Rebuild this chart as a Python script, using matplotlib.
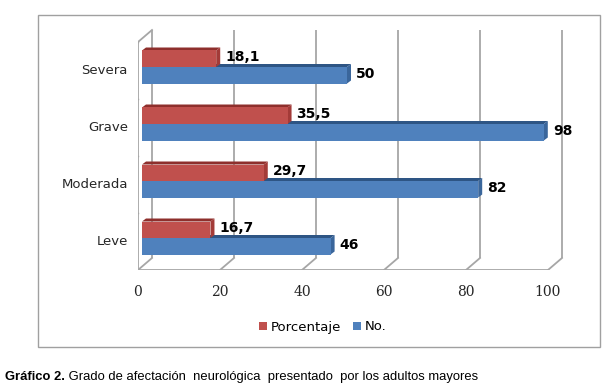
import matplotlib
matplotlib.use("Agg")
import matplotlib.pyplot as plt
from matplotlib.patches import Polygon, Rectangle, Patch

categories = ['Leve', 'Moderada', 'Grave', 'Severa']
porcentaje = [16.7, 29.7, 35.5, 18.1]
numero = [46, 82, 98, 50]
xticks = [0, 20, 40, 60, 80, 100]
series_names = ['Porcentaje', 'No.']
caption_bold = 'Gráfico 2.'
caption_rest = ' Grado de afectación  neurológica  presentado  por los adultos mayores'

W, H = 603, 387
fig = plt.figure(figsize=(W / 100, H / 100), dpi=100)
fig.patch.set_facecolor('white')

# axes geometry (pixels)
x0px, x100px = 138, 548
ppu_x = (x100px - x0px) / 100.0          # px per data unit (x)
floor_px, top_px = 270, 42               # front floor/top in px from top
ppu_y = (floor_px - top_px) / len(categories)
ax_right_px, ax_top_px = 590, 20
ax = fig.add_axes([x0px / W, (H - floor_px) / H, (ax_right_px - x0px) / W, (floor_px - ax_top_px) / H])
ax.set_xlim(0, (ax_right_px - x0px) / ppu_x)
ax.set_ylim(-0.5, -0.5 + (floor_px - ax_top_px) / ppu_y)
ax.axis('off')

PX = 1.0 / ppu_x
PY = 1.0 / ppu_y
DX, DY = 14 * PX, 12 * PY          # wall depth
grid_c = '#A6A6A6'
ybot, ytop = -0.5, len(categories) - 0.5

# back wall gridlines + floor diagonals
for t in xticks:
    ax.plot([t + DX, t + DX], [ybot + DY, ytop + DY], color=grid_c, lw=1.3, zorder=1, solid_capstyle='butt')
    ax.plot([t, t + DX], [ybot, ybot + DY], color=grid_c, lw=1.3, zorder=1)
    ax.plot([t, t], [ybot, ybot - 4 * PY], color=grid_c, lw=1.0, zorder=1)
    ax.text(t, ybot - 22 * PY, str(t), ha='center', va='center',
            fontsize=10, family='DejaVu Serif', color='#262626')
# front floor + left wall
ax.plot([0, xticks[-1]], [ybot, ybot], color=grid_c, lw=1.3, zorder=1)
ax.plot([0, 0], [ybot, ytop], color=grid_c, lw=1.3, zorder=1)
ax.plot([0, DX], [ytop, ytop + DY], color=grid_c, lw=1.3, zorder=1)
for k in range(len(categories) + 1):
    yy = ybot + k
    ax.plot([0, -4 * PX], [yy, yy], color=grid_c, lw=1.0, zorder=1)

# bars
bx0 = 4 * PX
boff = 3.5 * PY
bh = 16.5 * PY
bdx, bdy = 4 * PX, 3 * PY
colors = [('#C0504D', '#8E2F2C', '#A33B38'), ('#4F81BD', '#2E5584', '#3A669B')]


def bar3d(yb, val, cols, z):
    face, top, side = cols
    xe = bx0 + val
    yt = yb + bh
    ax.add_patch(Polygon([(bx0, yt), (bx0 + bdx, yt + bdy), (xe + bdx, yt + bdy), (xe, yt)],
                         closed=True, facecolor=top, edgecolor='none', zorder=z))
    ax.add_patch(Polygon([(xe, yb), (xe, yt), (xe + bdx, yt + bdy), (xe + bdx, yb + bdy)],
                         closed=True, facecolor=side, edgecolor='none', zorder=z))
    ax.add_patch(Rectangle((bx0, yb), val, bh, facecolor=face, edgecolor='none', zorder=z + 0.1))


def fmt(v):
    s = ('%g' % v).replace('.', ',')
    return s


for i, cat in enumerate(categories):
    c = i + boff
    # blue (No.) lower, red (Porcentaje) upper
    bar3d(c - bh, numero[i], colors[1], 3)
    bar3d(c, porcentaje[i], colors[0], 4)
    ax.text(bx0 + numero[i] + bdx + 5 * PX, c - bh / 2 + bdy / 2, fmt(numero[i]), ha='left', va='center',
            fontsize=10, fontweight='bold', color='black', zorder=6)
    ax.text(bx0 + porcentaje[i] + bdx + 5 * PX, c + bh / 2 + bdy / 2, fmt(porcentaje[i]), ha='left', va='center',
            fontsize=10, fontweight='bold', color='black', zorder=6)
    ax.text(-10 * PX, i, cat, ha='right', va='center', fontsize=9.5, color='#262626')

# legend
handles = [Patch(facecolor=colors[0][0], edgecolor='none'), Patch(facecolor=colors[1][0], edgecolor='none')]
fig.legend(handles, series_names, loc='center', bbox_to_anchor=(323 / W, (H - 327) / H), ncol=2,
           frameon=False, handlelength=0.6, handleheight=0.6, handletextpad=0.3, columnspacing=0.9,
           prop={'size': 9.5})

# outer frame
fig.patches.append(Rectangle((38 / W, (H - 347) / H), (600 - 38) / W, (347 - 15) / H,
                             transform=fig.transFigure, fill=False, edgecolor='#A0A0A0', lw=1.0))

# caption
t1 = fig.text(5 / W, (H - 377) / H, caption_bold, fontsize=9.4, fontweight='bold',
              family='Liberation Sans', ha='left', va='center', color='black')
renderer = fig.canvas.get_renderer()
bb = t1.get_window_extent(renderer=renderer)
fig.text(bb.x1 / W, (H - 377) / H, caption_rest, fontsize=9.4, family='Liberation Sans',
         ha='left', va='center', color='black')

fig.savefig('out.png', dpi=100)
